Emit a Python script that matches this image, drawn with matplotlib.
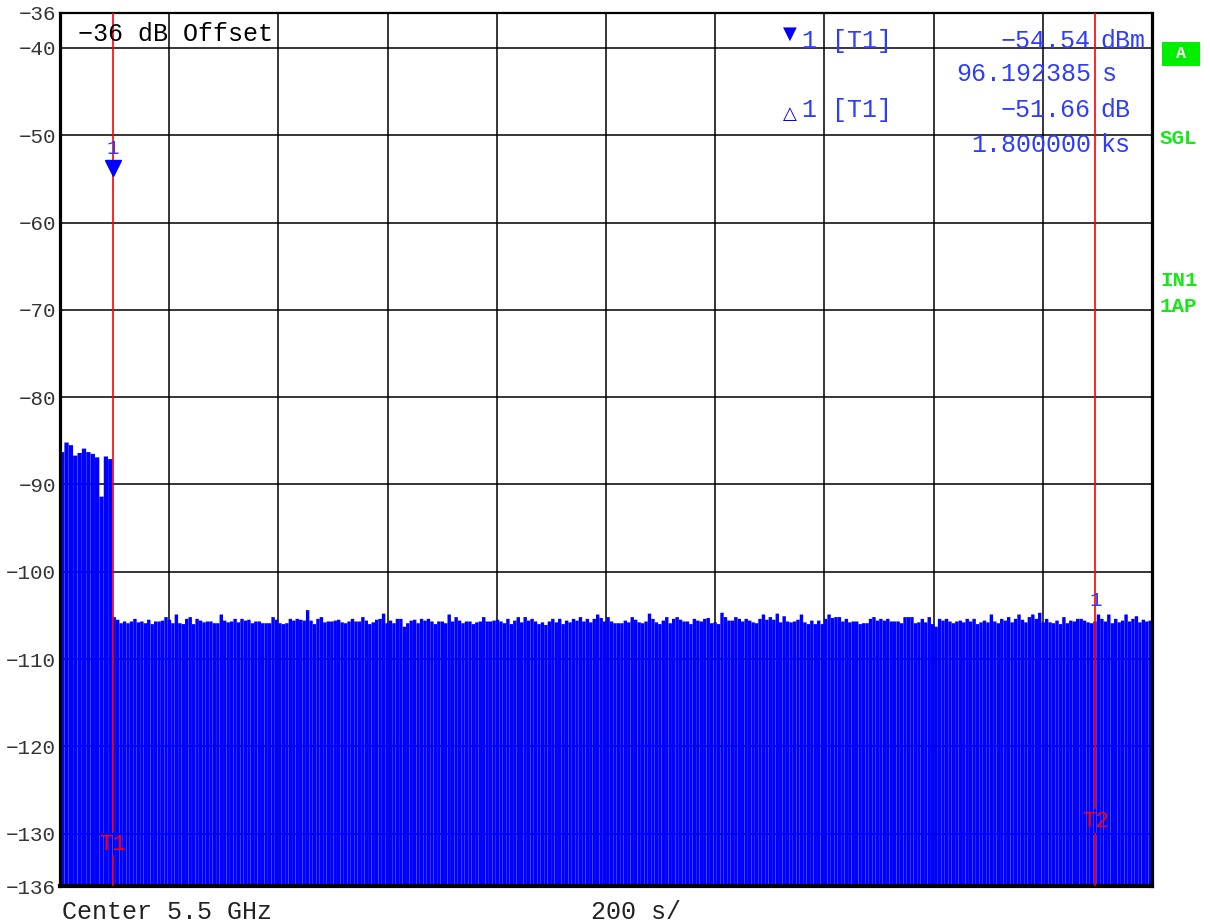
import numpy as np
import matplotlib
matplotlib.use("Agg")
from matplotlib import pyplot as plt
from matplotlib.patches import Rectangle

# trace tops (dBm), sweep 0..2000 s, floor at -136
pre_marker = [-86.3, -85.2, -85.5, -86.7, -86.4, -85.9, -86.3, -86.5, -86.9, -91.4, -86.8, -87.1]

noise_a = [-105.2, -105.5, -105.9, -105.7, -105.9, -105.7, -105.4, -105.8, -105.7, -105.9,
           -105.5, -106.0, -105.7, -105.7, -105.6, -105.2, -105.5, -105.9, -104.9, -105.9,
           -106.0, -105.4, -105.2, -106.0, -105.4, -105.6, -105.8, -105.7, -105.7, -105.9,
           -105.9, -104.9, -105.6, -105.8, -105.7, -105.4, -105.8, -105.4, -105.6, -105.5,
           -105.9, -105.7, -105.7, -105.9, -105.9, -105.9, -105.2, -105.5, -105.9, -106.0,
           -105.9, -105.4, -105.6, -105.4, -105.5, -105.6, -104.4, -105.6, -106.0, -105.4,
           -105.2, -105.8, -105.7, -105.7, -105.6, -105.5, -105.8, -105.9, -105.7, -105.4, -105.7]
noise_b = [-105.7, -105.2, -105.6, -106.0, -105.8, -105.5, -105.4, -104.8, -105.9, -105.6,
           -105.9, -105.4, -105.4, -106.3, -105.9, -105.6, -105.5, -105.9, -105.4, -105.6,
           -105.4, -105.7, -106.0, -105.7, -105.7, -105.9, -104.9, -105.7, -105.2, -105.6,
           -105.9, -105.7, -105.7, -106.0, -105.8, -105.7, -105.2, -105.7, -105.7, -105.6,
           -105.5, -105.7, -105.9, -105.4, -106.0, -105.6, -105.2, -105.8, -105.2, -105.6,
           -105.4, -105.7, -106.0, -105.8, -106.1, -105.7, -105.4, -105.8, -105.4, -106.0,
           -105.6, -105.8, -105.4, -105.6, -105.2, -105.7, -105.4, -105.8, -105.4, -104.9,
           -105.3, -105.7, -105.2, -105.7, -105.9, -105.9, -105.9, -105.6, -105.8]
noise_c = [-105.2, -105.5, -105.8, -105.9, -105.7, -104.8, -105.4, -105.8, -106.0, -105.6,
           -105.2, -105.9, -105.4, -105.2, -105.5, -105.7, -105.7, -106.0, -105.4, -105.6,
           -105.7, -105.4, -105.3, -105.9, -105.8, -106.0, -104.7, -105.2, -105.6, -105.6,
           -105.2, -105.4, -105.7, -105.4, -105.6, -105.8, -105.9, -105.4, -104.9, -105.5,
           -105.2, -105.5, -104.8, -105.8, -105.1, -105.7, -105.8, -105.7, -105.5, -104.9,
           -105.8, -106.0, -105.6, -106.0, -105.6, -106.0, -105.4, -104.9, -105.3, -105.2,
           -105.2, -105.7, -105.4, -105.8, -105.7, -105.7, -106.0, -105.9, -105.9, -105.4,
           -105.2, -105.6, -105.4, -105.6, -105.4, -105.7, -105.7]
noise_d = [-105.7, -105.9, -105.2, -105.2, -105.2, -105.9, -105.8, -105.4, -105.8, -105.2,
           -106.0, -106.3, -105.4, -105.6, -105.4, -105.7, -105.9, -105.7, -105.6, -105.8,
           -105.4, -105.7, -105.4, -106.0, -105.8, -105.6, -105.8, -104.9, -105.7, -105.9,
           -105.4, -105.6, -105.2, -105.8, -105.4, -104.9, -105.5, -105.8, -105.2, -104.9,
           -105.4, -104.7, -105.8, -105.4, -105.8, -105.9, -105.6, -106.0, -105.2, -105.9,
           -105.6, -105.7, -105.4, -105.4, -105.6, -105.8, -105.9, -105.7, -104.9, -105.4,
           -105.7, -104.9, -105.9, -105.4, -105.8, -105.6, -104.9, -105.7, -105.4, -105.1,
           -105.8, -105.5, -105.7, -105.6]

floor_db = -136
ref_db = -36
span_s = 2000
t1_s = 96.192385
t1_db = -54.54
t2_s = t1_s + 1800.0
ytick_vals = [-36, -40, -50, -60, -70, -80, -90, -100, -110, -120, -130, -136]

BLUE = "#0000ff"
MBLUE = "#2e3cff"
GREEN = "#19e619"
MONO = "Liberation Mono"

fig = plt.figure(figsize=(12.1, 9.24), dpi=100)
ax = fig.add_axes([60 / 1210, 38 / 924, 1092 / 1210, 873 / 924])
ax.set_xlim(0, span_s)
ax.set_ylim(floor_db, ref_db)

# grid
ax.set_xticks(np.arange(0, span_s + 1, 200))
ax.set_xticklabels([])
ax.grid(axis="x", color="black", linewidth=1.1, zorder=0)
for v in range(-130, -39, 10):
    ax.axhline(v, color="black", linewidth=1.1, zorder=0)
ax.set_yticks(ytick_vals)
ax.set_yticklabels(["\u2212" + str(-v) for v in ytick_vals],
                   fontfamily=MONO, fontsize=15, color="#333333")
ax.tick_params(length=0, pad=3)

for side, lw in (("left", 2.3), ("bottom", 3.0), ("right", 2.3), ("top", 1.6)):
    ax.spines[side].set_linewidth(lw)

# trace
step0 = t1_s / len(pre_marker)
x0 = np.arange(len(pre_marker)) * step0
bars0 = ax.bar(x0, np.array(pre_marker) - floor_db, bottom=floor_db, width=step0 * 0.985,
               align="edge", color=BLUE, linewidth=0, zorder=2)
noise = noise_a + noise_b + noise_c + noise_d
step1 = (span_s - t1_s) / len(noise)
x1 = t1_s + np.arange(len(noise)) * step1
bars1 = ax.bar(x1, np.array(noise) - floor_db, bottom=floor_db, width=step1 * 0.985,
               align="edge", color=BLUE, linewidth=0, zorder=2)
for b in list(bars0) + list(bars1):
    b.set_snap(False)

# marker lines with label gaps
t1_lbl, t2_lbl = -131.2, -128.6
ax.vlines(t1_s, t1_lbl + 1.4, ref_db, color="red", linewidth=1.2, zorder=4)
ax.vlines(t1_s, floor_db, t1_lbl - 1.3, color="red", linewidth=1.2, zorder=4)
ax.vlines(t2_s, t2_lbl + 1.4, ref_db, color="red", linewidth=1.2, zorder=4)
ax.vlines(t2_s, floor_db, t2_lbl - 1.3, color="red", linewidth=1.2, zorder=4)
ax.text(t1_s, t1_lbl, "T1", color="red", fontfamily=MONO, fontsize=16,
        ha="center", va="center", zorder=5)
ax.text(t2_s, t2_lbl, "T2", color="red", fontfamily=MONO, fontsize=16,
        ha="center", va="center", zorder=5)

ax.plot([t1_s], [t1_db + 0.8], marker="v", markersize=11, color=BLUE, zorder=5,
        clip_on=False)
ax.text(t1_s, t1_db + 3.0, "1", color=MBLUE, fontfamily=MONO, fontsize=15,
        ha="center", va="center", zorder=5)
ax.text(t2_s, -103.3, "1", color=MBLUE, fontfamily=MONO, fontsize=15,
        ha="center", va="center", zorder=5)


def ftext(x, y, s, **kw):
    fig.text(x / 1210, 1 - y / 924, s, va="center", **kw)


hdr = dict(fontfamily=MONO, fontsize=18, color=MBLUE)
ftext(78, 34, "\u221236 dB Offset", fontfamily=MONO, fontsize=18, color="black")
ftext(790, 34, "\u25bc", fontsize=13, color=BLUE, ha="center", fontfamily="DejaVu Sans")
ftext(801, 41, "1", **hdr)
ftext(832, 41, "[T1]", **hdr)
ftext(1091, 41, "\u221254.54", ha="right", **hdr)
ftext(1100, 41, "dBm", **hdr)
ftext(1091, 74, "96.192385", ha="right", **hdr)
ftext(1102, 74, "s", **hdr)
ftext(790, 114, "\u25b3", fontsize=13, color=BLUE, ha="center", fontfamily="DejaVu Sans",
      fontweight="bold")
ftext(801, 110, "1", **hdr)
ftext(832, 110, "[T1]", **hdr)
ftext(1091, 110, "\u221251.66", ha="right", **hdr)
ftext(1100, 110, "dB", **hdr)
ftext(1091, 145, "1.800000", ha="right", **hdr)
ftext(1100, 145, "ks", **hdr)

fig.patches.append(Rectangle((1162 / 1210, 1 - 66 / 924), 38 / 1210, 24 / 924,
                             transform=fig.transFigure, facecolor="#00ee00",
                             edgecolor="none"))
ftext(1181, 54, "A", ha="center", fontfamily=MONO, fontsize=12, fontweight="bold",
      color="white")
grn = dict(fontfamily=MONO, fontsize=15, color=GREEN, fontweight="bold")
ftext(1160, 138, "SGL", **grn)
ftext(1160, 280, "IN1", **grn)
ftext(1160, 307, "1AP", **grn)

ftext(62, 912, "Center 5.5 GHz", fontfamily=MONO, fontsize=18, color="#222222")
ftext(591, 912, "200 s/", fontfamily=MONO, fontsize=18, color="#222222")

fig.savefig("out.png", dpi=100)
